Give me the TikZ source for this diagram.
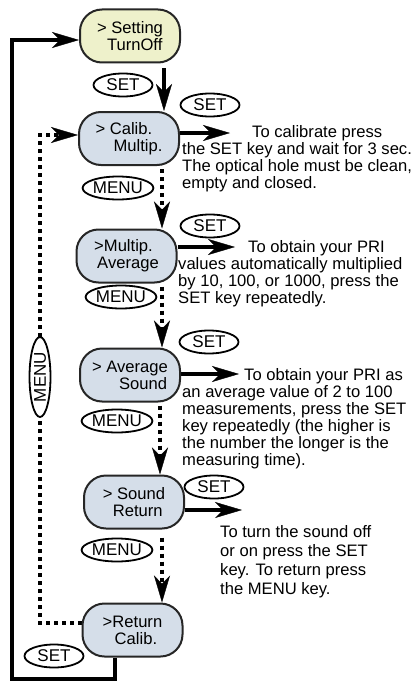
\documentclass[tikz,border=0pt]{standalone}
\usepackage{fontspec}
\setmainfont{Liberation Sans}
\usetikzlibrary{arrows.meta,shapes.geometric,backgrounds}
\definecolor{boxblue}{HTML}{D5DEE9}
\definecolor{boxyellow}{HTML}{EEF1CB}
\begin{document}
\begin{tikzpicture}[x=1pt,y=-1pt,
  menubox/.style={draw=black!85, line width=2pt, rounded corners=22pt, fill=boxblue,
    minimum width=100pt, minimum height=53pt, align=left, inner sep=0pt,
    font=\fontsize{16.6}{17}\selectfont},
  keyoval/.style={ellipse, draw, line width=1.8pt, fill=white, inner sep=0pt,
    minimum width=59pt, minimum height=23pt, font=\fontsize{17}{17}\selectfont},
  menuoval/.style={keyoval, minimum width=67pt},
  tip/.style={-{Stealth[length=27pt,width=16pt,inset=8pt,line width=0.4pt]}},
  solidarrow/.style={line width=4pt, tip},
  dotarrow/.style={line width=4pt, dash pattern=on 4pt off 4pt, tip},
  note/.style={anchor=base west, align=left, inner sep=0pt,
    font=\fontsize{16.6}{17}\selectfont}
]
\useasboundingbox (0,0) rectangle (414,685);

% menu boxes
\node[menubox, fill=boxyellow] (set) at (130,36) {> Setting\\\hspace*{10pt}TurnOff};
\node[menubox] (cal) at (129,138.5) {> Calib.\\\hspace*{18pt}Multip.};
\node[menubox] (mul) at (126.5,256) {>Multip.\\\hspace*{3pt}Average};
\node[menubox] (avg) at (130,375) {> Average\\\hspace*{27pt}Sound};
\node[menubox] (snd) at (134,502) {> Sound\\\hspace*{10pt}Return};
\node[menubox] (ret) at (132.5,630) {>Return\\\hspace*{12pt}Calib.};

% key labels
\node[keyoval] (k1) at (123,85) {SET};
\node[menuoval] (m1) at (118,188) {MENU};
\node[menuoval] (m2) at (121,297) {MENU};
\node[menuoval] (m3) at (117,421) {MENU};
\node[menuoval] (m4) at (117,550) {MENU};
\node[keyoval] (s1) at (210,105) {SET};
\node[keyoval] (s2) at (210,226) {SET};
\node[keyoval] (s3) at (209,342) {SET};
\node[keyoval] (s4) at (214,487) {SET};
\node[keyoval] (sb) at (54,656) {SET};

% notes (anchored at the baseline of their last line)
\node[note] (n1) at (182,188) {\hspace*{70pt}To calibrate press\\the SET key and wait for 3 sec.\\The optical hole must be clean,\\empty and closed.};
\node[note] (n2) at (178,303) {\hspace*{70pt}To obtain your PRI\\values automatically multiplied\\by 10, 100, or 1000, press the\\SET key repeatedly.};
\node[note] (n3) at (182,465) {\hspace*{62pt}To obtain your PRI as\\an average value of 2 to 100\\measurements, press the SET\\key repeatedly (the higher is\\the number the longer is the\\measuring time).};
\node[note, font=\fontsize{16.6}{19}\selectfont] (n4) at (220,594) {To turn the sound off\\or on press the SET\\key. To return press\\the MENU key.};

% helper coordinates
\coordinate (va) at (164,0);
\coordinate (vb) at (162,0);
\coordinate (vc) at (160,0);
\coordinate (calT) at (230,133);
\coordinate (mulT) at (235,247);
\coordinate (avgT) at (239,374);
\coordinate (sndT) at (242,510);
\coordinate (rb) at (115,679);
\coordinate (lb) at (12,679);
\coordinate (lt) at (12,40);
\coordinate (db) at (40,623);
\coordinate (dt) at (40,135);

\begin{scope}[on background layer]
  \draw[solidarrow, shorten <=5pt] (set.south -| va) -- (cal.north -| va);
  \draw[dotarrow, shorten <=3pt] (cal.south -| vb) -- (mul.north -| vb);
  \draw[dotarrow, shorten <=3pt] (mul.south -| vb) -- (avg.north -| vb);
  \draw[dotarrow, shorten <=3pt] (avg.south -| vc) -- (snd.north -| vc);
  \draw[dotarrow, shorten <=8pt] (snd.south -| vb) -- (ret.north -| vb);
  \draw[solidarrow] (cal.east |- calT) -- (calT);
  \draw[solidarrow] (mul.east |- mulT) -- (mulT);
  \draw[solidarrow] (avg.east |- avgT) -- (avgT);
  \draw[solidarrow] (snd.east |- sndT) -- (sndT);
  \draw[solidarrow, line join=miter] (ret.south -| rb) -- (rb) -- (lb) -- (lt) -- (set.west |- lt);
  \draw[dotarrow] (ret.west |- db) -- (db) -- (dt) -- (cal.west |- dt);
\end{scope}
\node[keyoval, rotate=90, minimum width=80pt, minimum height=21pt] (mv) at (40,377) {MENU};
\end{tikzpicture}
\end{document}
